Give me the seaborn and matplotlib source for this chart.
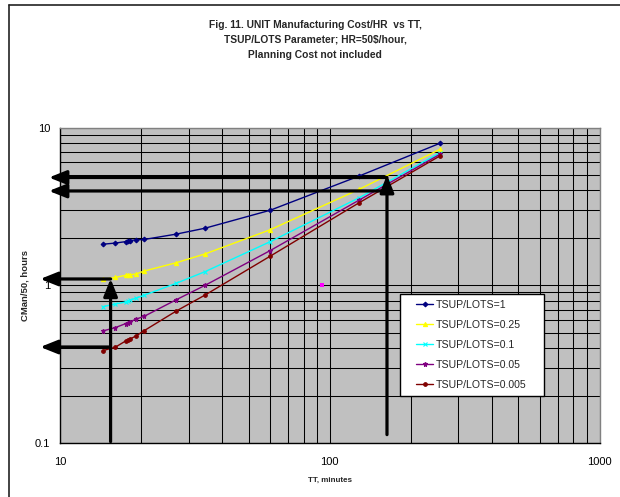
import matplotlib
matplotlib.use("Agg")
import matplotlib.pyplot as plt
import seaborn as sns
from matplotlib.lines import Line2D
from matplotlib.legend_handler import HandlerLine2D
from matplotlib.ticker import LogLocator, NullFormatter, FuncFormatter

# ---- data ---------------------------------------------------------------
tt_minutes = [14.4, 16.0, 17.5, 17.8, 18.1, 19.2, 20.5, 27.0, 34.5, 60.2, 128.7, 256.0]

cman_tsup_1 = [1.82, 1.85, 1.89, 1.90, 1.92, 1.94, 1.95, 2.11, 2.30, 2.99, 4.93, 7.94]
cman_tsup_025 = [1.09, 1.12, 1.156, 1.16, 1.165, 1.18, 1.23, 1.39, 1.58, 2.25, 4.06, 7.27]
cman_tsup_01 = [0.731, 0.760, 0.783, 0.791, 0.803, 0.830, 0.864, 1.03, 1.22, 1.89, 3.59, 6.92]
cman_tsup_005 = [0.513, 0.538, 0.571, 0.579, 0.585, 0.611, 0.635, 0.810, 0.999, 1.66, 3.47, 6.76]
cman_tsup_0005 = [0.385, 0.404, 0.443, 0.450, 0.454, 0.479, 0.515, 0.687, 0.867, 1.53, 3.34, 6.60]

series_labels = ["TSUP/LOTS=1", "TSUP/LOTS=0.25", "TSUP/LOTS=0.1",
                 "TSUP/LOTS=0.05", "TSUP/LOTS=0.005"]
series_values = [cman_tsup_1, cman_tsup_025, cman_tsup_01, cman_tsup_005, cman_tsup_0005]

# lone point of a second series
extra_tt = [93.5]
extra_cman = [1.01]

# reading arrows: (tail, tip) in data units
arrows = [
    ((15.4, 0.102), (15.4, 1.10)),
    ((15.4, 1.096), (8.45, 1.096)),
    ((15.4, 0.406), (8.45, 0.406)),
    ((163.0, 0.113), (163.0, 5.0)),
    ((163.0, 4.82), (9.1, 4.82)),
    ((163.0, 3.96), (9.1, 3.96)),
]

title_lines = ["Fig. 11. UNIT Manufacturing Cost/HR  vs TT,",
               "TSUP/LOTS Parameter; HR=50$/hour,",
               "Planning Cost not included"]

# ---- styling --------------------------------------------------------------
sns.set_style("white")
plt.rcParams["font.family"] = ["Liberation Sans", "DejaVu Sans"]

colors = ["#000080", "#FFFF00", "#00FFFF", "#800080", "#800000"]
markers = ["D", "^", "x", "*", "o"]
msizes = [2.4, 3.0, 3.0, 3.6, 2.6]

W, H = 620, 497
fig = plt.figure(figsize=(W / 100, H / 100), dpi=100)
fig.patch.set_facecolor("white")

ax = fig.add_axes([60 / W, 1 - 443 / H, 539.5 / W, 315.5 / H])
ax.set_facecolor("#C0C0C0")
ax.set_xscale("log")
ax.set_yscale("log")
ax.set_xlim(10, 1000)
ax.set_ylim(0.1, 10)

for label, vals, c, m, ms in zip(series_labels, series_values, colors, markers, msizes):
    sns.lineplot(x=tt_minutes, y=vals, color=c, marker=m, markersize=ms,
                 markeredgecolor=c, markerfacecolor=c, markeredgewidth=0.8,
                 linewidth=1.0, label=label, ax=ax, sort=False,
                 estimator=None, zorder=3)

sns.scatterplot(x=extra_tt, y=extra_cman, color="#FF00FF", marker="s", s=12,
                linewidth=0, ax=ax, legend=False, zorder=3)

# grid
ax.xaxis.set_major_locator(LogLocator(base=10, numticks=10))
ax.yaxis.set_major_locator(LogLocator(base=10, numticks=10))
ax.xaxis.set_minor_locator(LogLocator(base=10, subs=range(2, 10), numticks=20))
ax.yaxis.set_minor_locator(LogLocator(base=10, subs=range(2, 10), numticks=20))
ax.xaxis.set_minor_formatter(NullFormatter())
ax.yaxis.set_minor_formatter(NullFormatter())
fmt = FuncFormatter(lambda v, _: f"{v:g}")
ax.xaxis.set_major_formatter(fmt)
ax.yaxis.set_major_formatter(fmt)
ax.set_axisbelow(True)
ax.grid(which="both", color="black", linewidth=0.75)

for side in ["left", "bottom"]:
    ax.spines[side].set_color("black")
    ax.spines[side].set_linewidth(1.0)
for side in ["top", "right"]:
    ax.spines[side].set_color("#808080")
    ax.spines[side].set_linewidth(1.0)

ax.tick_params(which="major", direction="out", length=3, width=1,
               color="black", labelsize=8, labelcolor="black")
ax.tick_params(axis="x", which="major", pad=7)
ax.tick_params(axis="y", which="major", pad=4)
ax.tick_params(which="minor", length=0)

ax.set_xlabel("TT, minutes", fontsize=5.8, fontweight="bold")
ax.set_ylabel("CMan/50, hours", fontsize=6.8, fontweight="bold")
ax.xaxis.set_label_coords(0.5, (443 - 477) / 315.5)
ax.yaxis.set_label_coords((29.5 - 60) / 539.5, 0.5)

# reading arrows
for tail, tip in arrows:
    ax.annotate("", xy=tip, xytext=tail, annotation_clip=False,
                arrowprops=dict(arrowstyle="-|>,head_length=1.05,head_width=0.42",
                                mutation_scale=10, lw=2.3, color="black",
                                shrinkA=0, shrinkB=0),
                zorder=5)

leg = ax.legend(loc="upper left", bbox_to_anchor=(400 / W, 1 - 294 / H, 144 / W, 0),
                bbox_transform=fig.transFigure, mode="expand", frameon=True,
                fancybox=False, edgecolor="black", framealpha=1, facecolor="white",
                fontsize=7.6, labelspacing=0.95, handlelength=2.6, handletextpad=0.25,
                borderpad=0.55, borderaxespad=0,
                handler_map={Line2D: HandlerLine2D(xpad=1.0)})
leg.get_frame().set_linewidth(1.0)
leg.set_zorder(10)

# title
for i, line in enumerate(title_lines):
    fig.text(315 / W, 1 - (25 + 15 * i) / H, line, ha="center", va="center",
             fontsize=7.4, fontweight="bold",
             family=["Liberation Sans Narrow", "Liberation Sans"])

# chart frame (top and left edges)
fig.add_artist(Line2D([9 / W, 1.0], [1 - 5 / H, 1 - 5 / H], transform=fig.transFigure,
                      color="#222222", linewidth=1.2))
fig.add_artist(Line2D([9 / W, 9 / W], [0.0, 1 - 5 / H], transform=fig.transFigure,
                      color="#222222", linewidth=1.2))

fig.savefig("out.png", dpi=100)
